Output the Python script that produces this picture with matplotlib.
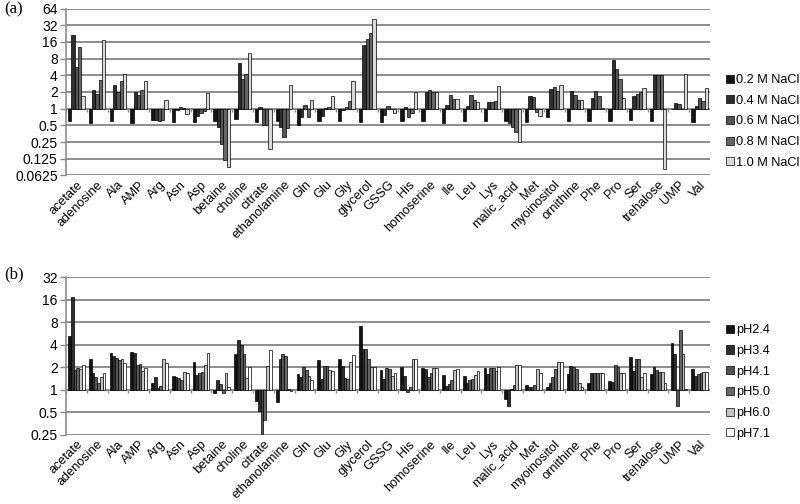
import numpy as np
import matplotlib
matplotlib.use('Agg')
matplotlib.rcParams['font.family'] = 'Liberation Sans'
import matplotlib.pyplot as plt
from matplotlib.ticker import FixedLocator, FuncFormatter


categories = ['acetate', 'adenosine', 'Ala', 'AMP', 'Arg', 'Asn', 'Asp', 'betaine', 'choline', 'citrate',
              'ethanolamine', 'Gln', 'Glu', 'Gly', 'glycerol', 'GSSG', 'His', 'homoserine', 'Ile', 'Leu',
              'Lys', 'malic_acid', 'Met', 'myoinositol', 'ornithine', 'Phe', 'Pro', 'Ser', 'trehalose', 'UMP', 'Val']

# panel (a): fold change per NaCl concentration
nacl_labels = ['0.2 M NaCl', '0.4 M NaCl', '0.6 M NaCl', '0.8 M NaCl', '1.0 M NaCl']
nacl_02 = [0.59, 0.55, 0.59, 0.55, 0.63, 0.57, 0.57, 0.60, 0.64, 0.57, 0.60, 0.51, 0.60, 0.60, 0.57, 0.57,
           0.60, 0.60, 0.56, 0.60, 0.60, 0.60, 0.57, 0.72, 0.60, 0.60, 0.60, 0.62, 0.59, 0.97, 0.57]
nacl_04 = [21.7, 2.2, 2.67, 1.97, 0.62, 0.93, 0.74, 0.47, 6.8, 1.05, 0.47, 0.70, 0.75, 0.96, 14.0, 0.76,
           1.05, 2.0, 1.15, 1.10, 1.30, 0.56, 1.67, 2.3, 2.05, 1.56, 7.6, 1.67, 4.1, 1.27, 1.10]
nacl_06 = [5.7, 1.85, 1.97, 1.79, 0.59, 1.08, 0.82, 0.23, 3.4, 0.50, 0.31, 1.15, 1.03, 1.07, 17.8, 1.10,
           0.72, 2.2, 1.8, 1.8, 1.30, 0.46, 1.62, 2.45, 1.8, 2.05, 5.1, 1.87, 4.1, 1.2, 1.56]
nacl_08 = [13.0, 3.3, 3.1, 2.2, 0.63, 1.03, 0.92, 0.12, 4.2, 0.50, 0.45, 0.70, 1.07, 1.35, 23.0, 0.98,
           0.82, 2.0, 1.5, 1.43, 1.40, 0.38, 0.86, 2.1, 1.45, 1.7, 3.5, 1.97, 4.1, 0.97, 1.40]
nacl_10 = [1.72, 17.0, 4.3, 3.2, 1.45, 0.80, 1.9, 0.09, 10.0, 0.19, 2.7, 1.45, 1.7, 3.2, 41.5, 0.82,
           2.0, 2.0, 1.5, 1.3, 2.6, 0.25, 0.73, 2.65, 1.45, 1.03, 1.56, 2.36, 0.08, 4.3, 2.36]

# panel (b): fold change per pH
ph_labels = ['pH2.4', 'pH3.4', 'pH4.1', 'pH5.0', 'pH6.0', 'pH7.1']
ph_24 = [5.2, 2.55, 3.1, 3.2, 1.25, 1.53, 2.35, 0.92, 3.0, 0.70, 0.68, 1.63, 2.5, 2.55, 7.1, 1.84,
         2.0, 1.95, 1.58, 1.53, 1.95, 0.75, 1.16, 1.10, 1.63, 1.22, 1.33, 2.77, 1.63, 4.25, 1.88]
ph_34 = [17.4, 1.66, 2.8, 3.1, 1.5, 1.47, 1.58, 1.35, 4.6, 0.52, 2.57, 1.5, 1.38, 2.1, 3.55, 1.38,
         1.53, 1.88, 1.13, 1.22, 1.63, 0.60, 1.10, 1.25, 2.08, 1.7, 1.29, 1.8, 2.0, 3.05, 1.53]
ph_41 = [1.85, 1.47, 2.7, 2.15, 1.05, 1.43, 1.7, 1.2, 4.0, 0.25, 3.0, 2.0, 2.08, 1.45, 3.55, 1.95,
         0.95, 1.47, 1.2, 1.36, 1.95, 1.02, 1.08, 1.5, 2.04, 1.66, 2.15, 2.55, 1.84, 0.61, 1.63]
ph_50 = [1.95, 1.25, 2.5, 2.2, 1.13, 1.36, 1.73, 0.90, 3.0, 0.40, 2.85, 1.84, 2.08, 1.4, 2.6, 1.88,
         1.1, 1.66, 1.36, 1.38, 1.95, 1.16, 1.16, 1.88, 1.88, 1.7, 2.0, 2.6, 1.72, 6.3, 1.66]
ph_60 = [1.9, 1.5, 2.55, 1.8, 2.6, 1.75, 2.15, 1.7, 1.45, 2.1, 1.02, 1.53, 1.84, 2.35, 2.0, 1.53,
         2.55, 1.95, 1.84, 1.58, 1.8, 2.15, 1.92, 2.38, 1.25, 1.7, 1.7, 1.47, 1.72, 3.0, 1.73]
ph_71 = [2.15, 1.66, 2.3, 1.95, 2.3, 1.66, 3.1, 1.08, 2.05, 3.4, 0.97, 1.36, 1.8, 2.9, 2.0, 1.66,
         2.55, 1.95, 1.88, 1.8, 2.04, 2.15, 1.66, 2.38, 1.1, 1.7, 1.66, 1.7, 1.25, 1.02, 1.73]

nacl_colors = ['#141414', '#2e2e2e', '#555555', '#666666', '#d9d9d9']
ph_colors = ['#141414', '#2e2e2e', '#555555', '#666666', '#c4c4c4', '#ffffff']


def bar_panel(ax, series, labels, colors, ymin, ymax, yticks, tick_len):
    n = len(series)
    x = np.arange(len(categories))
    group = 0.8
    w = group / n
    for i, vals in enumerate(series):
        vals = np.array(vals)
        pos = x - group / 2 + w * (i + 0.5)
        ax.bar(pos, vals - 1, bottom=1, width=w, color=colors[i], edgecolor='black',
               linewidth=0.5, label=labels[i], zorder=3)

    ax.set_yscale('log', base=2)
    ax.set_ylim(ymin, ymax)
    ax.yaxis.set_major_locator(FixedLocator(yticks))
    ax.yaxis.set_minor_locator(FixedLocator([]))
    ax.yaxis.set_major_formatter(FuncFormatter(lambda v, p: '%g' % v))
    ax.set_xlim(-0.5, len(categories) - 0.5)
    ax.set_xticks(x)
    ax.set_xticklabels(categories, rotation=45, ha='right', va='top', rotation_mode='anchor')
    ax.tick_params(axis='x', length=0, pad=2.5, labelsize=9.2)
    ax.tick_params(axis='y', length=4, color='#888888', width=1, labelsize=10, pad=2)

    ax.yaxis.grid(True, color='#8c8c8c', linewidth=1.4, zorder=0)
    for s in ('top', 'right', 'bottom'):
        ax.spines[s].set_visible(False)
    ax.spines['left'].set_color('#8c8c8c')
    ax.spines['left'].set_linewidth(1.2)

    # category axis crossing at 1 with small boundary ticks
    ax.axhline(1, color='#8c8c8c', linewidth=1.2, zorder=2)
    bounds = np.arange(len(categories) + 1) - 0.5
    ax.vlines(bounds, tick_len, 1, color='#8c8c8c', linewidth=1, zorder=2)


fig = plt.figure(figsize=(8, 5.04), dpi=100)

ax1 = fig.add_axes([0.0825, 0.652, 0.805, 0.331])
bar_panel(ax1, [nacl_02, nacl_04, nacl_06, nacl_08, nacl_10], nacl_labels, nacl_colors,
          0.0625, 64, [0.0625, 0.125, 0.25, 0.5, 1, 2, 4, 8, 16, 32, 64], 0.88)

ax2 = fig.add_axes([0.0825, 0.137, 0.805, 0.313])
bar_panel(ax2, [ph_24, ph_34, ph_41, ph_50, ph_60, ph_71], ph_labels, ph_colors,
          0.25, 32, [0.25, 0.5, 1, 2, 4, 8, 16, 32], 0.91)

leg_kw = dict(frameon=False, fontsize=9.2, handlelength=0.6, handleheight=0.6,
              handletextpad=0.15, labelspacing=0.68, borderpad=0, loc='center left')
h, l = ax1.get_legend_handles_labels()
fig.legend(h, l, bbox_to_anchor=(0.9, 0.759), **leg_kw)
h, l = ax2.get_legend_handles_labels()
fig.legend(h, l, bbox_to_anchor=(0.9, 0.242), **leg_kw)

fig.text(0.005, 0.982, '(a)', family='Liberation Serif', fontsize=12, va='center')
fig.text(0.005, 0.455, '(b)', family='Liberation Serif', fontsize=12, va='center')

fig.savefig('out.png', dpi=100)
